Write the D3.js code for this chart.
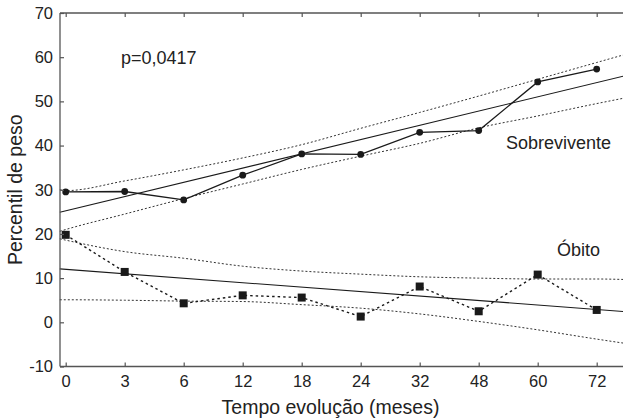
<!DOCTYPE html>
<html><head><meta charset="utf-8">
<script src="https://cdn.jsdelivr.net/npm/d3@7"></script>
<style>
html,body{margin:0;padding:0;background:#fff;}
svg{display:block;font-family:"Liberation Sans",Arial,Helvetica,sans-serif;}
</style></head>
<body>
<svg id="chart" width="623" height="418"></svg>
<script>
// ---- data ----
const categories = ["0","3","6","12","18","24","32","48","60","72"];
const yTicks = [-10,0,10,20,30,40,50,60,70];
const sobrevivente = [29.5,29.6,27.7,33.3,38.1,38.0,43.0,43.4,54.4,57.3];
const obito = [19.8,11.4,4.3,6.1,5.6,1.3,8.1,2.5,10.8,2.8];
// band/regression positions (category index units, extended to the plot edges)
const bandPos = [-0.1,0,1,2,3,4,5,6,7,8,9,9.45];
const sobreUpper = [30.0,29.8,32.0,34.5,37.2,40.2,43.9,47.5,51.2,55.0,58.8,60.5];
const sobreLower = [20.6,21.0,24.5,28.0,31.3,34.6,37.6,40.5,44.0,46.7,49.5,50.7];
const obitoUpper = [18.9,18.6,16.0,14.5,12.7,11.6,10.9,10.3,10.0,9.8,9.8,9.7];
const obitoLower = [5.1,5.1,5.0,4.8,4.7,4.0,3.2,1.9,0.2,-1.7,-3.8,-4.7];
const fitPos = [-0.1,9.45];
const sobreFit = [24.9,55.7];
const obitoFit = [12.1,2.45];
const pText = "p=0,0417";
const labelSobre = "Sobrevivente";
const labelObito = "Óbito";
const xTitle = "Tempo evolução (meses)";
const yTitle = "Percentil de peso";

(function () {
// ---- layout ----
const svg = d3.select("#chart");
const mLeft = 60, mTop = 13, mBottom = 366.5, mRight = 623;
const x = d3.scaleLinear().domain([0, categories.length - 1]).range([65.7, 596.7]);
const y = d3.scaleLinear().domain([-10, 70]).range([mBottom, mTop]);
const axisColor = "#555";
const ink = "#1a1a1a";

const plot = svg.append("g");

// axes
const xAxisB = d3.axisBottom(x).tickValues(d3.range(categories.length))
  .tickFormat(i => categories[i]).tickSizeInner(-4).tickSizeOuter(0).tickPadding(9);
const gxb = svg.append("g").attr("transform", `translate(0,${mBottom})`).call(xAxisB);
gxb.select(".domain").remove();
svg.append("line").attr("x1", mLeft).attr("x2", mRight).attr("y1", mBottom).attr("y2", mBottom)
  .attr("stroke", axisColor).attr("stroke-width", 1.3);
const xAxisT = d3.axisTop(x).tickValues(d3.range(categories.length))
  .tickFormat("").tickSizeInner(-4).tickSizeOuter(0);
const gxt = svg.append("g").attr("transform", `translate(0,${mTop})`).call(xAxisT);
gxt.select(".domain").remove();
svg.append("line").attr("x1", mLeft).attr("x2", mRight).attr("y1", mTop).attr("y2", mTop)
  .attr("stroke", axisColor).attr("stroke-width", 1.3);
const yAxis = d3.axisLeft(y).tickValues(yTicks).tickFormat(d => String(d))
  .tickSizeInner(-4).tickSizeOuter(0).tickPadding(7);
const gy = svg.append("g").attr("transform", `translate(${mLeft},0)`).call(yAxis);
gy.select(".domain").remove();
svg.append("line").attr("x1", mLeft).attr("x2", mLeft).attr("y1", mTop).attr("y2", mBottom)
  .attr("stroke", axisColor).attr("stroke-width", 1.3);

svg.selectAll(".tick line").attr("stroke", axisColor).attr("stroke-width", 1.2);
svg.selectAll(".tick text").attr("fill", "#222").style("font-size", "16.5px");

// bands
const bandLine = d3.line().x((d) => x(d[0])).y(d => y(d[1])).curve(d3.curveMonotoneX);
[sobreUpper, sobreLower, obitoUpper, obitoLower].forEach(arr => {
  plot.append("path").datum(bandPos.map((p, i) => [p, arr[i]]))
    .attr("d", bandLine).attr("fill", "none").attr("stroke", "#333")
    .attr("stroke-width", 1).attr("stroke-dasharray", "2,2");
});

// regression lines
const straight = d3.line().x(d => x(d[0])).y(d => y(d[1]));
[sobreFit, obitoFit].forEach(arr => {
  plot.append("path").datum(fitPos.map((p, i) => [p, arr[i]]))
    .attr("d", straight).attr("fill", "none").attr("stroke", ink).attr("stroke-width", 1.1);
});

// data lines
plot.append("path").datum(obito.map((v, i) => [i, v]))
  .attr("d", straight).attr("fill", "none").attr("stroke", ink)
  .attr("stroke-width", 1.4).attr("stroke-dasharray", "2.5,3");
plot.append("path").datum(sobrevivente.map((v, i) => [i, v]))
  .attr("d", straight).attr("fill", "none").attr("stroke", ink).attr("stroke-width", 1.3);

plot.selectAll("circle.s").data(sobrevivente).enter().append("circle")
  .attr("cx", (d, i) => x(i)).attr("cy", d => y(d)).attr("r", 3.4).attr("fill", ink);
const sq = 8;
plot.selectAll("rect.o").data(obito).enter().append("rect")
  .attr("x", (d, i) => x(i) - sq / 2).attr("y", d => y(d) - sq / 2)
  .attr("width", sq).attr("height", sq).attr("fill", ink);

// texts
svg.append("text").attr("x", 121).attr("y", 64).attr("fill", "#222")
  .style("font-size", "18px").text(pText);
svg.append("text").attr("x", 506).attr("y", 148.5).attr("fill", "#222")
  .style("font-size", "18px").text(labelSobre);
svg.append("text").attr("x", 557).attr("y", 256).attr("fill", "#222")
  .style("font-size", "18px").text(labelObito);
svg.append("text").attr("x", 330.5).attr("y", 414).attr("text-anchor", "middle")
  .attr("fill", "#222").style("font-size", "19.5px").text(xTitle);
svg.append("text").attr("transform", `translate(21.5,${(mTop + mBottom) / 2}) rotate(-90)`)
  .attr("text-anchor", "middle").attr("fill", "#222").style("font-size", "19.5px").text(yTitle);
})();
</script>
</body></html>
